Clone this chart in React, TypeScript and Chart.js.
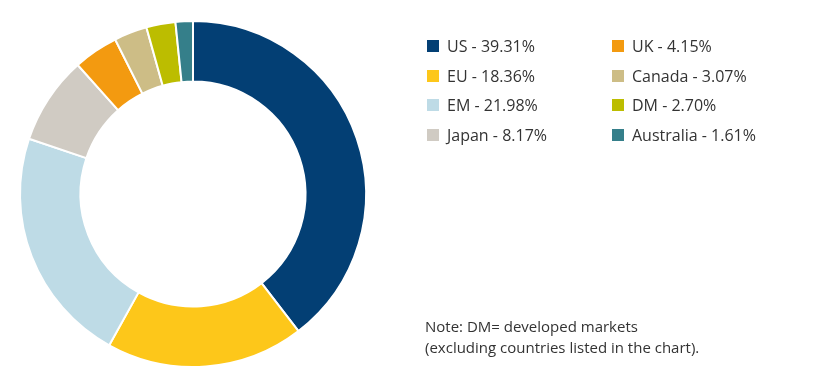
import React, { useEffect, useRef } from "react";
import { Chart, registerables } from "chart.js";

Chart.register(...registerables);

const labels = ["US", "EU", "EM", "Japan", "UK", "Canada", "DM", "Australia"];
const values = [39.31, 18.36, 21.98, 8.17, 4.15, 3.07, 2.7, 1.61];
const valueLabels = ["39.31%", "18.36%", "21.98%", "8.17%", "4.15%", "3.07%", "2.70%", "1.61%"];
const colors = ["#033f74", "#fdc71a", "#bedbe6", "#d0cbc3", "#f39a10", "#cdbd86", "#bcbd00", "#357f8a"];
const legendOrder = [0, 4, 1, 5, 2, 6, 3, 7];
const noteLines = ["Note: DM= developed markets", "(excluding countries listed in the chart)."];

export default function App() {
  const ref = useRef<HTMLCanvasElement>(null);
  useEffect(() => {
    const chart = new Chart(ref.current!, {
      type: "doughnut",
      data: {
        labels,
        datasets: [
          {
            data: values,
            backgroundColor: colors,
            borderColor: "#ffffff",
            borderWidth: 2,
          },
        ],
      },
      options: {
        animation: false,
        responsive: false,
        cutout: "65%",
        layout: { padding: { left: 19, top: 19, bottom: 18, right: 463 } },
        plugins: { legend: { display: false }, tooltip: { enabled: false } },
      },
    });
    return () => chart.destroy();
  }, []);

  const font = "'Open Sans', sans-serif";
  return (
    <div style={{ position: "absolute", left: 0, top: 0, width: 830, height: 387, background: "#fff", overflow: "hidden" }}>
      <canvas ref={ref} width={830} height={387} style={{ position: "absolute", left: 0, top: 0 }} />
      {legendOrder.map((idx, i) => {
        const col = i % 2;
        const row = Math.floor(i / 2);
        const x = col === 0 ? 427 : 612;
        const y = 46 + row * 29.5;
        return (
          <div key={idx} style={{ position: "absolute", left: x, top: y - 10, height: 20, display: "flex", alignItems: "center", fontFamily: font, fontSize: 16, color: "#333", whiteSpace: "nowrap" }}>
            <span style={{ display: "inline-block", width: 12, height: 12, background: colors[idx], marginRight: 8 }} />
            <span>{labels[idx] + " - " + valueLabels[idx]}</span>
          </div>
        );
      })}
      <div style={{ position: "absolute", left: 425, top: 316, fontFamily: font, fontSize: 15, lineHeight: "21px", color: "#333", whiteSpace: "nowrap" }}>
        {noteLines.map((l, i) => (
          <div key={i}>{l}</div>
        ))}
      </div>
    </div>
  );
}
